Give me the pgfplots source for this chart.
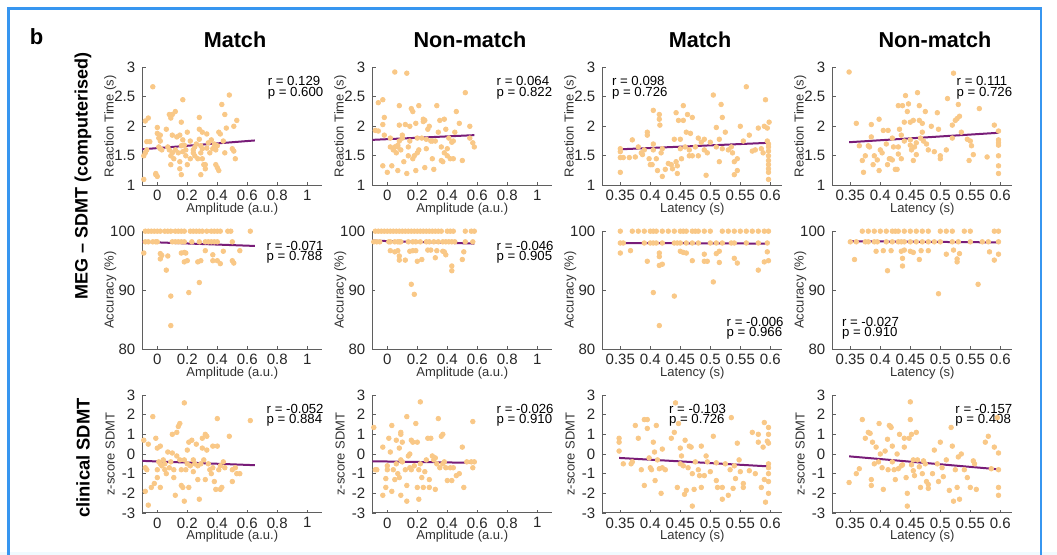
\documentclass[border=0pt]{standalone}
\usepackage{pgfplots}
\pgfplotsset{compat=1.18}
\usepackage{fontspec}
\setmainfont{Liberation Sans}
\definecolor{dotc}{RGB}{249,200,135}
\definecolor{linec}{RGB}{120,28,120}
\definecolor{axc}{RGB}{95,95,95}
\definecolor{framec}{RGB}{55,150,240}
\pgfplotsset{
 panel/.style={
  scale only axis, width=90pt, height=59pt,
  axis lines=left, axis line style={-, axc, line width=0.5pt},
  tick align=inside, major tick length=1.6pt, tick style={axc, line width=0.4pt},
  /pgf/number format/assume math mode=true,
  label style={font=\fontsize{6.5}{7.5}\selectfont, text=black!80},
  tick label style={font=\fontsize{7.5}{8.5}\selectfont, text=black!85},
  xticklabel style={yshift=1.2pt},
  xlabel style={at={(axis description cs:0.5,-0.2)}, anchor=center},
  ylabel style={at={(axis description cs:-0.178,0.5)}, anchor=center},
  scaled ticks=false, clip=false,
 },
 amp/.style={xmin=-0.1, xmax=1.1, xtick={0,0.2,0.4,0.6,0.8,1}, xlabel={Amplitude (a.u.)}},
 lat/.style={xmin=0.32, xmax=0.62, xtick={0.35,0.4,0.45,0.5,0.55,0.6}, xlabel={Latency (s)}},
 rt/.style={ymin=1, ymax=3, ytick={1,1.5,2,2.5,3}, ylabel={Reaction Time (s)}},
 acc/.style={ymin=80, ymax=100, ytick={80,90,100}, ylabel={Accuracy (\%)}},
 zs/.style={ymin=-3, ymax=3, ytick={-3,-2,-1,0,1,2,3}, ylabel={z-score SDMT}},
 dots/.style={only marks, mark=*, mark size=1.15pt, color=dotc, mark options={draw=none, fill=dotc}},
 fit/.style={linec, line width=1pt, no marks},
}
\newcommand{\rp}[3]{\node[anchor=west, inner sep=0pt, font=\fontsize{6.6}{7.6}\selectfont, align=left] at (axis description cs:#1,#2) {#3};}
\begin{document}
\begin{tikzpicture}
\useasboundingbox (0,0) rectangle (528.5pt,-277.5pt);
\fill[cyan!6] (0,-276pt) rectangle (528.5pt,-277.5pt);
\draw[framec, line width=1.4pt] (4.3pt,-290pt) -- (4.3pt,-4.3pt) -- (520.5pt,-4.3pt) -- (520.5pt,-290pt);
\node[font=\bfseries\fontsize{11}{13}\selectfont] at (18.3pt,-18.5pt) {b};
\node[font=\bfseries\fontsize{10.8}{13}\selectfont] at (117.5pt,-20pt) {Match};
\node[font=\bfseries\fontsize{10.8}{13}\selectfont] at (235pt,-20pt) {Non-match};
\node[font=\bfseries\fontsize{10.8}{13}\selectfont] at (350pt,-20pt) {Match};
\node[font=\bfseries\fontsize{10.8}{13}\selectfont] at (467.5pt,-20pt) {Non-match};
\node[rotate=90, font=\bfseries\fontsize{9}{11}\selectfont] at (41.5pt,-88pt) {MEG – SDMT (computerised)};
\node[rotate=90, font=\bfseries\fontsize{9.2}{11}\selectfont] at (41.5pt,-229pt) {clinical SDMT};

% ---------- Row 1: reaction time ----------
\begin{axis}[panel, amp, rt, at={(71.15pt,-33.65pt)}, anchor=north west]
\addplot[dots] coordinates {(-0.08,2.09)(-0.06,2.14)(-0.03,2.67)(-0.07,1.74)(-0.05,1.74)(-0.08,1.55)(-0.09,1.5)(-0.07,1.6)(-0.09,1.1)(-0.01,1.2)(0.0,1.15)(-0.01,1.18)(0.0,1.98)(0.0,1.88)(0.02,1.85)(0.01,1.8)(0.02,1.75)(0.01,1.65)(0.02,1.62)(0.03,1.6)(0.06,1.95)(0.08,2.2)(0.1,2.2)(0.09,2.14)(0.12,2.25)(0.17,2.45)(0.07,1.65)(0.08,1.6)(0.1,1.55)(0.09,1.5)(0.11,1.45)(0.09,1.35)(0.1,1.85)(0.13,1.82)(0.15,1.85)(0.12,1.6)(0.14,1.55)(0.15,1.4)(0.15,1.28)(0.16,1.18)(0.17,1.77)(0.18,1.68)(0.19,1.6)(0.19,1.5)(0.2,1.35)(0.2,1.9)(0.16,1.67)(0.17,1.57)(0.16,2.07)(0.22,1.75)(0.24,1.6)(0.25,1.5)(0.24,1.55)(0.26,1.7)(0.28,2.15)(0.28,1.95)(0.3,1.9)(0.28,1.78)(0.29,1.67)(0.29,1.55)(0.3,1.45)(0.31,1.35)(0.29,1.18)(0.32,1.35)(0.32,1.28)(0.33,1.63)(0.34,1.72)(0.33,1.87)(0.35,1.55)(0.36,1.77)(0.37,1.62)(0.38,1.65)(0.38,1.7)(0.39,1.6)(0.4,1.67)(0.39,1.35)(0.4,1.3)(0.41,1.25)(0.41,1.9)(0.42,1.87)(0.44,1.75)(0.45,1.55)(0.43,2.37)(0.45,2.2)(0.46,1.97)(0.48,2.53)(0.5,1.62)(0.51,1.58)(0.52,1.45)(0.51,2.0)(0.53,2.1)(0.3,1.62)(0.22,1.45)(0.27,1.45)(0.25,1.65)};
\addplot[fit] coordinates {(-0.1,1.61)(0.65,1.76)};
\rp{0.695}{0.884}{r = 0.129}
\rp{0.695}{0.782}{p = 0.600}
\end{axis}

\begin{axis}[panel, amp, rt, at={(186.15pt,-33.65pt)}, anchor=north west]
\addplot[dots] coordinates {(0.05,2.92)(0.13,2.9)(-0.06,2.4)(-0.03,2.45)(-0.02,2.15)(-0.08,1.93)(-0.06,1.92)(-0.03,2.03)(-0.02,1.85)(0.02,1.8)(-0.03,1.33)(0.0,1.22)(0.03,1.33)(0.04,1.6)(0.05,1.65)(0.06,1.55)(0.07,1.65)(0.07,1.68)(0.08,1.75)(0.09,1.6)(0.07,1.25)(0.08,2.02)(0.08,2.35)(0.1,1.8)(0.12,2.03)(0.11,1.4)(0.13,1.2)(0.14,1.5)(0.14,1.65)(0.15,1.75)(0.15,2.0)(0.16,2.3)(0.17,1.45)(0.18,1.5)(0.17,2.25)(0.19,2.05)(0.19,1.25)(0.2,1.55)(0.21,1.6)(0.2,1.8)(0.21,2.35)(0.23,1.8)(0.24,2.12)(0.24,2.08)(0.25,2.1)(0.26,1.78)(0.26,1.62)(0.27,1.95)(0.28,2.0)(0.29,1.75)(0.3,1.75)(0.3,1.45)(0.31,1.27)(0.32,1.75)(0.33,2.35)(0.34,1.9)(0.35,2.1)(0.36,1.65)(0.36,1.42)(0.37,1.4)(0.38,1.55)(0.38,2.12)(0.39,1.95)(0.4,1.62)(0.41,1.8)(0.42,1.45)(0.43,1.73)(0.44,1.45)(0.44,1.75)(0.45,1.9)(0.46,2.25)(0.48,2.05)(0.5,1.42)(0.52,2.57)(0.55,2.0)(0.55,1.8)(0.57,1.72)(0.58,1.65)(0.02,1.65)(0.1,1.85)(0.25,1.3)(0.4,1.5)};
\addplot[fit] coordinates {(-0.1,1.77)(0.58,1.85)};
\rp{0.689}{0.884}{r = 0.064}
\rp{0.689}{0.782}{p = 0.822}
\end{axis}

\begin{axis}[panel, lat, rt, at={(301.15pt,-33.65pt)}, anchor=north west]
\addplot[dots] coordinates {(0.35,1.62)(0.35,1.57)(0.35,1.47)(0.35,1.22)(0.355,1.47)(0.37,1.77)(0.365,1.47)(0.375,1.48)(0.38,1.65)(0.385,1.55)(0.387,1.52)(0.39,1.6)(0.395,1.9)(0.395,1.85)(0.398,1.45)(0.4,1.35)(0.403,1.35)(0.405,1.7)(0.405,1.6)(0.405,2.27)(0.41,1.45)(0.412,1.25)(0.415,2.2)(0.415,2.12)(0.416,2.02)(0.418,1.55)(0.42,1.62)(0.42,1.15)(0.425,1.27)(0.43,1.37)(0.435,1.35)(0.437,1.28)(0.44,1.78)(0.443,2.23)(0.443,1.4)(0.445,1.33)(0.445,1.2)(0.447,2.1)(0.45,1.78)(0.45,1.62)(0.452,1.45)(0.455,2.35)(0.455,2.1)(0.458,1.65)(0.46,1.9)(0.462,2.2)(0.465,1.6)(0.465,1.5)(0.467,1.88)(0.47,2.15)(0.47,1.5)(0.475,1.65)(0.48,1.8)(0.48,1.5)(0.485,1.73)(0.49,1.78)(0.49,1.6)(0.493,1.17)(0.495,1.55)(0.5,1.73)(0.505,2.53)(0.51,1.98)(0.51,1.65)(0.515,1.78)(0.515,1.4)(0.518,2.37)(0.52,2.15)(0.52,1.62)(0.525,1.9)(0.53,1.6)(0.535,1.65)(0.537,1.55)(0.54,1.18)(0.54,1.4)(0.545,1.25)(0.545,1.45)(0.55,2.0)(0.555,1.75)(0.56,2.67)(0.565,1.85)(0.57,1.58)(0.575,1.6)(0.58,1.97)(0.585,1.62)(0.588,1.55)(0.59,2.0)(0.592,2.45)(0.595,1.97)(0.595,1.75)(0.597,1.7)(0.597,1.65)(0.597,1.58)(0.597,1.5)(0.597,1.42)(0.597,1.35)(0.597,1.28)(0.597,1.22)(0.597,1.1)(0.598,2.07)};
\addplot[fit] coordinates {(0.35,1.61)(0.597,1.72)};
\rp{0.052}{0.884}{r = 0.098}
\rp{0.052}{0.782}{p = 0.726}
\end{axis}

\begin{axis}[panel, lat, rt, at={(416.15pt,-33.65pt)}, anchor=north west]
\addplot[dots] coordinates {(0.348,2.92)(0.36,2.05)(0.365,1.67)(0.37,1.42)(0.372,1.22)(0.375,1.5)(0.38,1.67)(0.382,1.65)(0.385,1.82)(0.385,2.03)(0.388,1.35)(0.39,1.5)(0.395,1.43)(0.398,1.25)(0.398,2.12)(0.4,1.6)(0.403,1.55)(0.405,1.93)(0.41,1.7)(0.412,1.35)(0.413,1.93)(0.415,1.45)(0.417,1.45)(0.42,1.8)(0.42,1.43)(0.422,1.65)(0.425,1.27)(0.428,1.27)(0.43,1.65)(0.43,1.53)(0.43,2.35)(0.432,1.95)(0.435,1.85)(0.435,1.45)(0.437,2.35)(0.44,2.07)(0.44,1.75)(0.442,2.52)(0.445,2.25)(0.447,2.38)(0.45,2.07)(0.45,1.77)(0.45,1.68)(0.452,1.6)(0.455,1.42)(0.455,2.1)(0.457,1.65)(0.46,1.52)(0.46,1.72)(0.462,2.57)(0.465,2.35)(0.465,2.1)(0.467,1.8)(0.47,2.05)(0.47,1.9)(0.472,1.75)(0.475,2.25)(0.477,1.7)(0.48,1.6)(0.485,2.0)(0.49,1.57)(0.495,2.23)(0.497,1.95)(0.5,1.5)(0.5,1.45)(0.51,1.6)(0.512,2.47)(0.52,2.02)(0.52,1.8)(0.522,2.9)(0.525,2.1)(0.528,2.13)(0.53,2.37)(0.532,2.17)(0.535,1.9)(0.545,1.78)(0.548,1.42)(0.55,1.75)(0.552,1.67)(0.555,1.52)(0.565,2.3)(0.578,1.48)(0.59,2.02)(0.597,1.92)(0.597,1.77)(0.597,1.72)(0.597,1.68)(0.597,1.5)(0.597,1.33)(0.597,1.2)};
\addplot[fit] coordinates {(0.348,1.73)(0.597,1.89)};
\rp{0.689}{0.884}{r = 0.111}
\rp{0.689}{0.782}{p = 0.726}
\end{axis}

% ---------- Row 2: accuracy ----------
\begin{axis}[panel, amp, acc, at={(71.15pt,-115.6pt)}, anchor=north west]
\addplot[dots] coordinates {(-0.08,100)(-0.06,100)(-0.04,100)(-0.02,100)(0.0,100)(0.02,100)(0.05,100)(0.07,100)(0.09,100)(0.12,100)(0.14,100)(0.16,100)(0.18,100)(0.22,100)(0.24,100)(0.26,100)(0.28,100)(0.30,100)(0.33,100)(0.36,100)(0.38,100)(0.40,100)(0.42,100)(0.47,100)(0.49,100)(0.62,100)
(-0.08,98.2)(-0.06,98.2)(-0.03,98.2)(-0.01,98.2)(0.0,98.2)(0.1,98.2)(0.12,98.2)(0.14,98.2)(0.16,98.2)(0.18,98.2)(0.23,98.2)(0.28,98.2)(0.32,98.2)(0.34,98.2)(0.36,98.2)(0.38,98.2)(0.40,98.2)(0.5,98.2)
(-0.09,96.3)(0.02,96.2)(0.03,95.9)(0.02,95.3)(0.07,95.8)(0.06,93.4)(0.09,89)(0.09,84)(0.16,96.3)(0.18,96.4)(0.19,96.3)(0.18,94.8)(0.2,95)(0.21,89.6)(0.27,94.8)(0.28,91.3)(0.29,95)(0.32,96.7)(0.37,95)(0.37,96)(0.4,95)(0.42,94.5)(0.44,96.6)(0.5,95)(0.51,94.6)(0.55,96.7)};
\addplot[fit] coordinates {(-0.1,98.2)(0.65,97.5)};
\rp{0.689}{0.874}{r = -0.071}
\rp{0.689}{0.777}{p = 0.788}
\end{axis}

\begin{axis}[panel, amp, acc, at={(186.15pt,-115.6pt)}, anchor=north west]
\addplot[dots] coordinates {(-0.08,100)(-0.06,100)(-0.04,100)(-0.02,100)(0.0,100)(0.02,100)(0.04,100)(0.06,100)(0.08,100)(0.1,100)(0.12,100)(0.14,100)(0.16,100)(0.18,100)(0.2,100)(0.22,100)(0.24,100)(0.26,100)(0.28,100)(0.3,100)(0.32,100)(0.34,100)(0.36,100)(0.4,100)(0.42,100)(0.44,100)(0.52,100)(0.56,100)(0.58,100)
(-0.09,98.2)(-0.07,98.2)(-0.05,98.2)(0.01,98.2)(0.02,98.2)(0.05,98.2)(0.07,98.2)(0.08,98.2)(0.09,98.2)(0.14,98.2)(0.17,98.2)(0.19,98.2)(0.22,98.2)(0.26,98.2)(0.28,98.2)(0.31,98.2)(0.34,98.2)(0.37,98.2)(0.39,98.2)(0.41,98.2)(0.43,98.2)(0.45,98.2)(0.52,98.2)(0.57,98.2)
(0.02,96.7)(0.05,96.5)(0.07,96.7)(0.08,95.8)(0.08,95.1)(0.12,95.1)(0.15,96.6)(0.17,96.7)(0.19,96.7)(0.2,94.9)(0.23,95.2)(0.27,96.8)(0.29,96.8)(0.32,95.5)(0.33,96.7)(0.37,96.6)(0.38,96.5)(0.39,96)(0.43,94.1)(0.43,93.3)(0.5,95.2)(0.51,96.5)(0.16,91)(0.18,89.3)};
\addplot[fit] coordinates {(-0.1,98.4)(0.58,97.9)};
\rp{0.689}{0.874}{r = -0.046}
\rp{0.689}{0.777}{p = 0.905}
\end{axis}

\begin{axis}[panel, lat, acc, at={(301.15pt,-115.6pt)}, anchor=north west]
\addplot[dots] coordinates {(0.35,100)(0.37,100)(0.38,100)(0.39,100)(0.4,100)(0.405,100)(0.41,100)(0.42,100)(0.43,100)(0.44,100)(0.45,100)(0.455,100)(0.46,100)(0.47,100)(0.475,100)(0.48,100)(0.49,100)(0.5,100)(0.52,100)(0.53,100)(0.54,100)(0.55,100)(0.56,100)(0.57,100)(0.58,100)(0.59,100)(0.597,100)
(0.35,98)(0.355,98)(0.39,98)(0.4,98)(0.405,98)(0.41,98)(0.42,98)(0.44,98)(0.445,98)(0.45,98)(0.46,98)(0.47,98)(0.48,98)(0.5,98)(0.51,98)(0.52,98)(0.535,98)(0.54,98)(0.56,98)(0.58,98)(0.595,98)
(0.35,96.3)(0.367,96.7)(0.395,94.9)(0.405,89.6)(0.415,96.3)(0.415,95.7)(0.415,94.2)(0.415,84)(0.42,94.4)(0.44,89)(0.45,96.6)(0.455,96.4)(0.46,96.3)(0.47,95)(0.49,96.1)(0.49,94.9)(0.495,94.9)(0.505,91.4)(0.51,96.2)(0.515,96.6)(0.515,94.7)(0.54,95.4)(0.545,94.6)(0.58,93.4)(0.59,94.8)(0.595,96.5)(0.597,95)};
\addplot[fit] coordinates {(0.35,98.0)(0.597,97.9)};
\rp{0.689}{0.232}{r = -0.006}
\rp{0.689}{0.134}{p = 0.966}
\end{axis}

\begin{axis}[panel, lat, acc, at={(416.15pt,-115.6pt)}, anchor=north west]
\addplot[dots] coordinates {(0.37,100)(0.38,100)(0.39,100)(0.4,100)(0.41,100)(0.42,100)(0.425,100)(0.43,100)(0.44,100)(0.45,100)(0.46,100)(0.47,100)(0.48,100)(0.5,100)(0.51,100)(0.52,100)(0.54,100)(0.55,100)(0.59,100)(0.597,100)
(0.35,98.2)(0.36,98.2)(0.375,98.2)(0.38,98.2)(0.39,98.2)(0.395,98.2)(0.41,98.2)(0.42,98.2)(0.43,98.2)(0.435,98.2)(0.44,98.2)(0.45,98.2)(0.46,98.2)(0.47,98.2)(0.48,98.2)(0.49,98.2)(0.5,98.2)(0.52,98.2)(0.53,98.2)(0.55,98.2)(0.57,98.2)(0.58,98.2)(0.597,98.2)
(0.357,95.2)(0.393,96.6)(0.405,96.7)(0.412,93.3)(0.418,96.7)(0.435,96.6)(0.437,95.4)(0.437,94.1)(0.44,96.8)(0.45,96.6)(0.455,96.4)(0.465,95.2)(0.468,96.7)(0.48,96.7)(0.497,89.4)(0.51,96.1)(0.522,96.8)(0.528,95.3)(0.528,94.8)(0.532,96.2)(0.563,91)(0.582,96.5)(0.59,95.1)(0.597,96.1)};
\addplot[fit] coordinates {(0.35,98.3)(0.597,98.1)};
\rp{0.052}{0.232}{r = -0.027}
\rp{0.052}{0.134}{p = 0.910}
\end{axis}

% ---------- Row 3: clinical SDMT ----------
\begin{axis}[panel, amp, zs, at={(71.15pt,-197.5pt)}, anchor=north west]
\addplot[dots] coordinates {(-0.09,0.7)(-0.08,-0.7)(-0.07,-0.8)(-0.06,0.5)(-0.08,-1.9)(-0.06,-2.6)(-0.04,-1.7)(-0.02,-1.5)(-0.03,1.9)(-0.01,0.8)(0.0,0.3)(0.0,-0.8)(0.0,-1.2)(0.02,0.4)(0.01,-0.4)(0.02,-0.5)(0.03,-0.6)(0.02,-1.7)(0.04,-0.3)(0.05,-0.5)(0.05,-0.8)(0.06,-1.0)(0.07,0.1)(0.08,-0.7)(0.09,-0.4)(0.1,0.05)(0.1,1.0)(0.11,-1.2)(0.11,-0.8)(0.12,-2.1)(0.13,1.1)(0.13,-0.1)(0.14,1.4)(0.15,1.55)(0.15,-0.3)(0.16,-0.8)(0.16,-1.6)(0.17,-1.7)(0.18,2.6)(0.18,-0.3)(0.18,-2.4)(0.19,-0.8)(0.2,0.2)(0.2,-0.5)(0.21,0.6)(0.21,-1.7)(0.22,-0.6)(0.23,0.7)(0.24,-0.9)(0.24,-0.3)(0.26,0.5)(0.27,-0.6)(0.27,-1.3)(0.28,-2.3)(0.29,-0.5)(0.3,0.3)(0.3,0.8)(0.31,-0.3)(0.32,1.0)(0.32,-1.3)(0.33,0.9)(0.33,0.2)(0.34,-0.5)(0.35,-0.8)(0.36,-1.0)(0.37,0.4)(0.37,-0.7)(0.38,-1.4)(0.39,-1.8)(0.4,1.8)(0.41,-0.8)(0.42,-0.6)(0.42,-1.8)(0.43,-1.7)(0.44,-0.4)(0.45,-0.7)(0.48,0.9)(0.5,-0.8)(0.5,-1.4)(0.52,-0.7)(0.53,-1.0)(0.55,-1.0)(0.62,1.7)(0.4,0.4)(0.25,-0.5)};
\addplot[fit] coordinates {(-0.1,-0.35)(0.65,-0.57)};
\rp{0.689}{0.879}{r = -0.052}
\rp{0.689}{0.782}{p = 0.884}
\end{axis}

\begin{axis}[panel, amp, zs, at={(186.15pt,-197.5pt)}, anchor=north west]
\addplot[dots] coordinates {(-0.09,1.35)(-0.08,-0.8)(-0.07,-0.8)(-0.03,0.35)(-0.03,-2.1)(-0.01,-1.25)(-0.01,-1.7)(0.0,-0.6)(0.0,-0.8)(0.01,0.8)(0.02,0.1)(0.03,1.45)(0.03,-1.9)(0.04,-0.8)(0.05,-1.3)(0.06,0.7)(0.06,-0.5)(0.07,-1.0)(0.08,0.3)(0.08,-1.2)(0.09,1.0)(0.09,1.1)(0.09,-0.3)(0.09,-2.1)(0.1,0.6)(0.1,-0.4)(0.12,-0.8)(0.13,1.9)(0.13,-1.6)(0.13,-2.4)(0.14,-0.1)(0.15,0.0)(0.15,-0.7)(0.16,0.7)(0.16,-0.8)(0.17,0.6)(0.18,-0.6)(0.19,1.55)(0.2,0.6)(0.2,-1.7)(0.21,-0.8)(0.21,-2.3)(0.22,2.65)(0.22,-0.5)(0.23,-1.2)(0.24,-1.7)(0.25,-0.9)(0.26,-0.3)(0.27,0.8)(0.28,-1.3)(0.28,-1.7)(0.29,0.8)(0.3,-0.1)(0.31,-0.3)(0.32,-0.2)(0.32,-1.8)(0.33,-0.5)(0.34,1.8)(0.35,-0.7)(0.36,0.9)(0.37,1.0)(0.37,-0.5)(0.38,-0.4)(0.39,-0.7)(0.4,-1.35)(0.42,-0.7)(0.43,-1.35)(0.44,-0.7)(0.46,-1.1)(0.48,-1.0)(0.5,0.35)(0.51,-1.7)(0.53,-0.4)(0.56,-0.4)(0.57,1.65)(0.57,-0.7)(0.58,-0.4)};
\addplot[fit] coordinates {(-0.1,-0.37)(0.58,-0.45)};
\rp{0.689}{0.879}{r = -0.026}
\rp{0.689}{0.782}{p = 0.910}
\end{axis}

\begin{axis}[panel, lat, zs, at={(301.15pt,-197.5pt)}, anchor=north west]
\addplot[dots] coordinates {(0.348,0.8)(0.348,0.6)(0.348,0.15)(0.355,-0.5)(0.368,-0.5)(0.37,-0.4)(0.375,1.45)(0.38,0.8)(0.385,-0.8)(0.39,1.75)(0.39,-1.6)(0.395,1.75)(0.395,1.3)(0.398,-0.2)(0.4,-0.7)(0.402,-0.8)(0.405,0.6)(0.407,0.1)(0.408,-1.35)(0.41,1.45)(0.412,-0.3)(0.415,-0.75)(0.418,-2.0)(0.42,-0.7)(0.42,0.25)(0.425,-0.8)(0.435,0.8)(0.44,1.1)(0.442,2.6)(0.445,-1.7)(0.447,1.55)(0.45,0.3)(0.45,-0.5)(0.452,-0.1)(0.455,-0.6)(0.457,-2.05)(0.458,0.7)(0.46,-1.85)(0.463,-0.7)(0.465,0.4)(0.468,0.35)(0.47,-1.0)(0.47,-2.65)(0.473,-1.8)(0.475,-0.4)(0.48,-0.8)(0.482,-1.1)(0.485,-1.7)(0.485,0.4)(0.49,-1.1)(0.493,-0.1)(0.495,-0.4)(0.5,-0.9)(0.505,0.9)(0.51,-1.35)(0.51,-0.45)(0.512,-1.7)(0.52,-1.7)(0.52,-2.3)(0.525,-0.5)(0.53,-2.1)(0.533,-0.8)(0.535,1.85)(0.538,-1.75)(0.54,-0.6)(0.542,-1.25)(0.545,0.55)(0.548,-0.3)(0.55,-0.9)(0.555,-1.5)(0.555,-1.7)(0.565,-0.85)(0.57,1.1)(0.575,-1.0)(0.58,0.6)(0.58,1.0)(0.585,-1.7)(0.588,0.35)(0.59,1.6)(0.59,-1.3)(0.592,-2.45)(0.595,0.65)(0.597,1.35)(0.597,1.0)(0.597,0.55)(0.597,-0.5)(0.597,-0.7)(0.597,-1.0)(0.597,-1.4)(0.597,-2.0)};
\addplot[fit] coordinates {(0.348,-0.2)(0.597,-0.63)};
\rp{0.369}{0.879}{r = -0.103}
\rp{0.369}{0.782}{p = 0.726}
\end{axis}

\begin{axis}[panel, lat, zs, at={(416.15pt,-197.5pt)}, anchor=north west]
\addplot[dots] coordinates {(0.348,-1.45)(0.36,-1.0)(0.365,-0.75)(0.37,1.75)(0.375,0.8)(0.38,1.1)(0.383,1.05)(0.385,-1.3)(0.385,-1.6)(0.387,0.6)(0.39,-0.5)(0.393,0.35)(0.397,-0.4)(0.398,1.55)(0.4,0.0)(0.403,-0.7)(0.405,-1.8)(0.408,0.15)(0.412,0.75)(0.413,-0.8)(0.415,1.45)(0.417,1.4)(0.418,1.35)(0.42,0.4)(0.42,-0.4)(0.423,-0.8)(0.425,-1.3)(0.428,0.0)(0.43,-0.75)(0.432,1.0)(0.435,-0.6)(0.437,-0.55)(0.44,0.8)(0.44,0.35)(0.443,-1.2)(0.445,-2.0)(0.445,-2.65)(0.448,0.8)(0.45,2.65)(0.45,1.75)(0.452,1.0)(0.452,-0.55)(0.455,-0.3)(0.455,-0.85)(0.457,-1.1)(0.46,1.1)(0.462,-0.3)(0.465,-0.65)(0.467,-1.7)(0.47,-1.0)(0.472,-0.35)(0.475,-0.5)(0.477,-1.4)(0.48,-1.75)(0.48,-1.55)(0.487,-1.0)(0.49,0.2)(0.495,-0.5)(0.497,-1.4)(0.5,0.6)(0.503,-0.7)(0.505,-1.15)(0.51,-0.3)(0.515,-1.85)(0.518,1.35)(0.52,0.4)(0.522,-2.4)(0.525,-0.8)(0.528,-1.7)(0.53,-0.15)(0.532,-2.3)(0.535,0.0)(0.54,-0.8)(0.545,-1.2)(0.55,-1.7)(0.555,-0.35)(0.557,-0.5)(0.56,-1.8)(0.575,0.6)(0.58,0.9)(0.585,-0.75)(0.59,0.35)(0.595,1.85)(0.597,0.05)(0.597,-0.8)(0.597,-1.7)(0.597,-2.1)};
\addplot[fit] coordinates {(0.348,-0.12)(0.597,-0.78)};
\rp{0.682}{0.879}{r = -0.157}
\rp{0.682}{0.782}{p = 0.408}
\end{axis}
\end{tikzpicture}
\end{document}
